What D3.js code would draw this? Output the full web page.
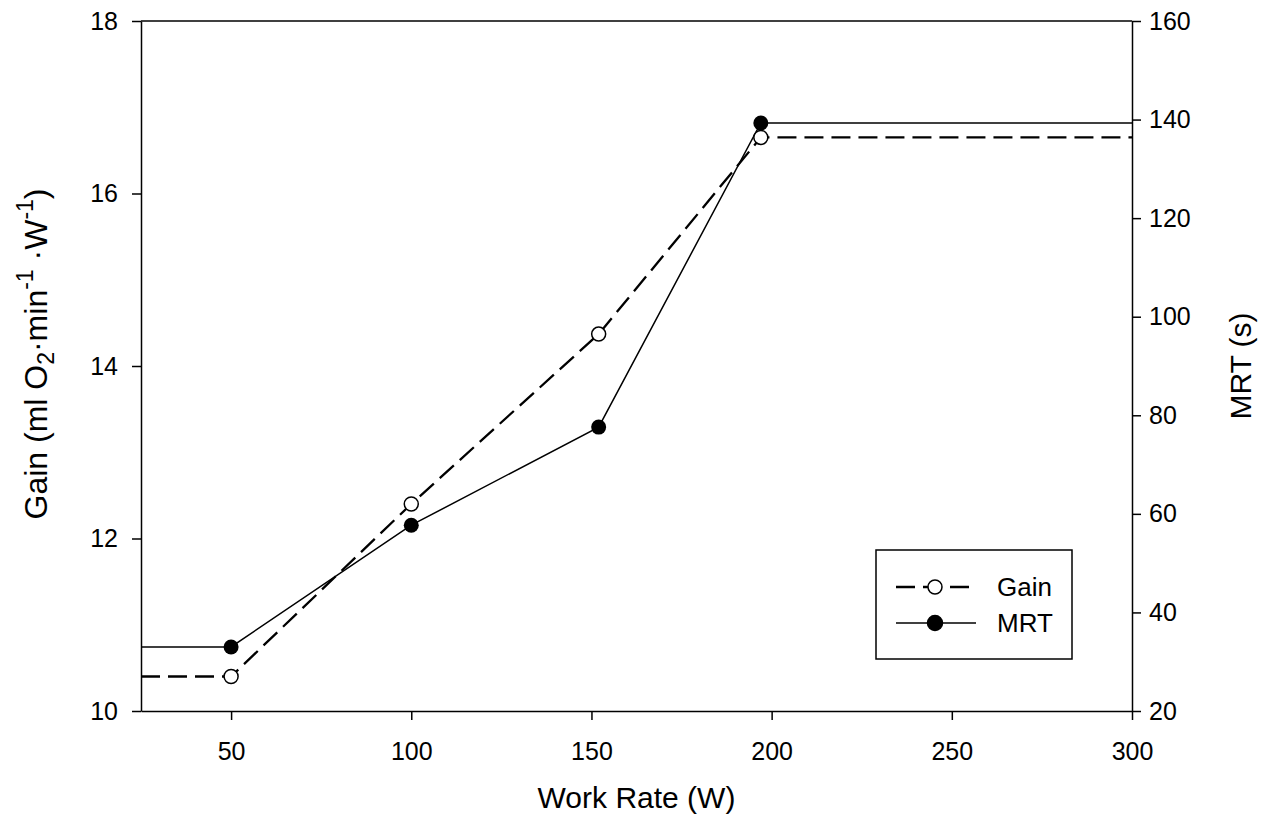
<!DOCTYPE html>
<html>
<head>
<meta charset="utf-8">
<script src="https://cdn.jsdelivr.net/npm/d3@7"></script>
<style>
  body { margin: 0; background: #fff; }
  text { font-family: "Liberation Sans", Arial, sans-serif; fill: #000; }
</style>
</head>
<body>
<div id="chart"></div>
<script>
// values
const workRate = [50, 100, 152, 197];
const gain = [10.4, 12.4, 14.37, 16.65];
const mrt = [33, 57.7, 77.6, 139.3];

const xTicks = [50, 100, 150, 200, 250, 300];
const gainTicks = [10, 12, 14, 16, 18];
const mrtTicks = [20, 40, 60, 80, 100, 120, 140, 160];

const width = 1273;
const height = 831;
const plotLeft = 141, plotRight = 1132, plotTop = 21, plotBottom = 711;

const svg = d3.select("#chart")
  .append("svg")
  .attr("width", width)
  .attr("height", height);

const x = d3.scaleLinear().domain([25, 300]).range([plotLeft, plotRight]);
const yGain = d3.scaleLinear().domain([10, 18]).range([plotBottom, plotTop]);
const yMrt = d3.scaleLinear().domain([20, 160]).range([plotBottom, plotTop]);

// frame top line
svg.append("line")
  .attr("x1", plotLeft).attr("x2", plotRight)
  .attr("y1", plotTop).attr("y2", plotTop)
  .attr("stroke", "#000").attr("stroke-width", 1.5);

function styleAxis(g) {
  g.selectAll("path.domain").attr("stroke", "#000").attr("stroke-width", 1.5);
  g.selectAll(".tick line").attr("stroke", "#000").attr("stroke-width", 1.5);
  g.selectAll(".tick text")
    .attr("fill", "#000")
    .style("font-size", "25px")
    .style("font-family", '"Liberation Sans", Arial, sans-serif');
}

svg.append("g")
  .attr("transform", `translate(0,${plotBottom})`)
  .call(d3.axisBottom(x).tickValues(xTicks).tickSize(9).tickSizeOuter(0).tickPadding(22))
  .call(styleAxis);

svg.append("g")
  .attr("transform", `translate(${plotLeft},0)`)
  .call(d3.axisLeft(yGain).tickValues(gainTicks).tickSize(9).tickSizeOuter(0).tickPadding(14))
  .call(styleAxis);

svg.append("g")
  .attr("transform", `translate(${plotRight},0)`)
  .call(d3.axisRight(yMrt).tickValues(mrtTicks).tickSize(9).tickSizeOuter(0).tickPadding(8))
  .call(styleAxis);

// series: lines run flat out to the plot edges
const xd = x.domain();
function withEdges(vals) {
  const pts = workRate.map((w, i) => [w, vals[i]]);
  return [[xd[0], vals[0]], ...pts, [xd[1], vals[vals.length - 1]]];
}

const gainLine = d3.line().x(d => x(d[0])).y(d => yGain(d[1]));
const mrtLine = d3.line().x(d => x(d[0])).y(d => yMrt(d[1]));

svg.append("path")
  .attr("d", mrtLine(withEdges(mrt)))
  .attr("fill", "none")
  .attr("stroke", "#000")
  .attr("stroke-width", 1.5);

svg.append("path")
  .attr("d", gainLine(withEdges(gain)))
  .attr("fill", "none")
  .attr("stroke", "#000")
  .attr("stroke-width", 2.3)
  .attr("stroke-dasharray", "19,8");

svg.selectAll("circle.gain")
  .data(workRate)
  .enter()
  .append("circle")
  .attr("class", "gain")
  .attr("cx", d => x(d))
  .attr("cy", (d, i) => yGain(gain[i]))
  .attr("r", 7)
  .attr("fill", "#fff")
  .attr("stroke", "#000")
  .attr("stroke-width", 1.5);

svg.selectAll("circle.mrt")
  .data(workRate)
  .enter()
  .append("circle")
  .attr("class", "mrt")
  .attr("cx", d => x(d))
  .attr("cy", (d, i) => yMrt(mrt[i]))
  .attr("r", 7.5)
  .attr("fill", "#000");

// axis titles
svg.append("text")
  .attr("x", (plotLeft + plotRight) / 2)
  .attr("y", 808)
  .attr("text-anchor", "middle")
  .style("font-size", "30px")
  .text("Work Rate (W)");

const gTitle = svg.append("text")
  .attr("transform", "translate(47,354) rotate(-90)")
  .attr("text-anchor", "middle")
  .style("font-size", "32px");
gTitle.append("tspan").text("Gain (ml O");
gTitle.append("tspan").attr("baseline-shift", "-30%").style("font-size", "23px").text("2");
gTitle.append("tspan").text("·min");
gTitle.append("tspan").attr("baseline-shift", "60%").style("font-size", "23px").text("-1");
gTitle.append("tspan").text(" ·W");
gTitle.append("tspan").attr("baseline-shift", "60%").style("font-size", "23px").text("-1");
gTitle.append("tspan").text(")");

svg.append("text")
  .attr("transform", "translate(1251,366) rotate(-90)")
  .attr("text-anchor", "middle")
  .style("font-size", "30px")
  .text("MRT (s)");

// legend
const legend = svg.append("g");
legend.append("rect")
  .attr("x", 876).attr("y", 550)
  .attr("width", 196).attr("height", 109)
  .attr("fill", "#fff")
  .attr("stroke", "#000")
  .attr("stroke-width", 1.5);

const legendItems = [
  { name: "Gain", dash: "19,8", sw: 2.3, fill: "#fff", r: 7 },
  { name: "MRT", dash: null, sw: 1.5, fill: "#000", r: 7.5 }
];
legendItems.forEach((d, i) => {
  const cy = 587 + i * 36;
  legend.append("line")
    .attr("x1", 896).attr("x2", 976)
    .attr("y1", cy).attr("y2", cy)
    .attr("stroke", "#000")
    .attr("stroke-width", d.sw)
    .attr("stroke-dasharray", d.dash);
  legend.append("circle")
    .attr("cx", 935).attr("cy", cy).attr("r", d.r)
    .attr("fill", d.fill)
    .attr("stroke", "#000")
    .attr("stroke-width", 1.5);
  legend.append("text")
    .attr("x", 997).attr("y", cy + 9)
    .style("font-size", "26px")
    .text(d.name);
});
</script>
</body>
</html>
